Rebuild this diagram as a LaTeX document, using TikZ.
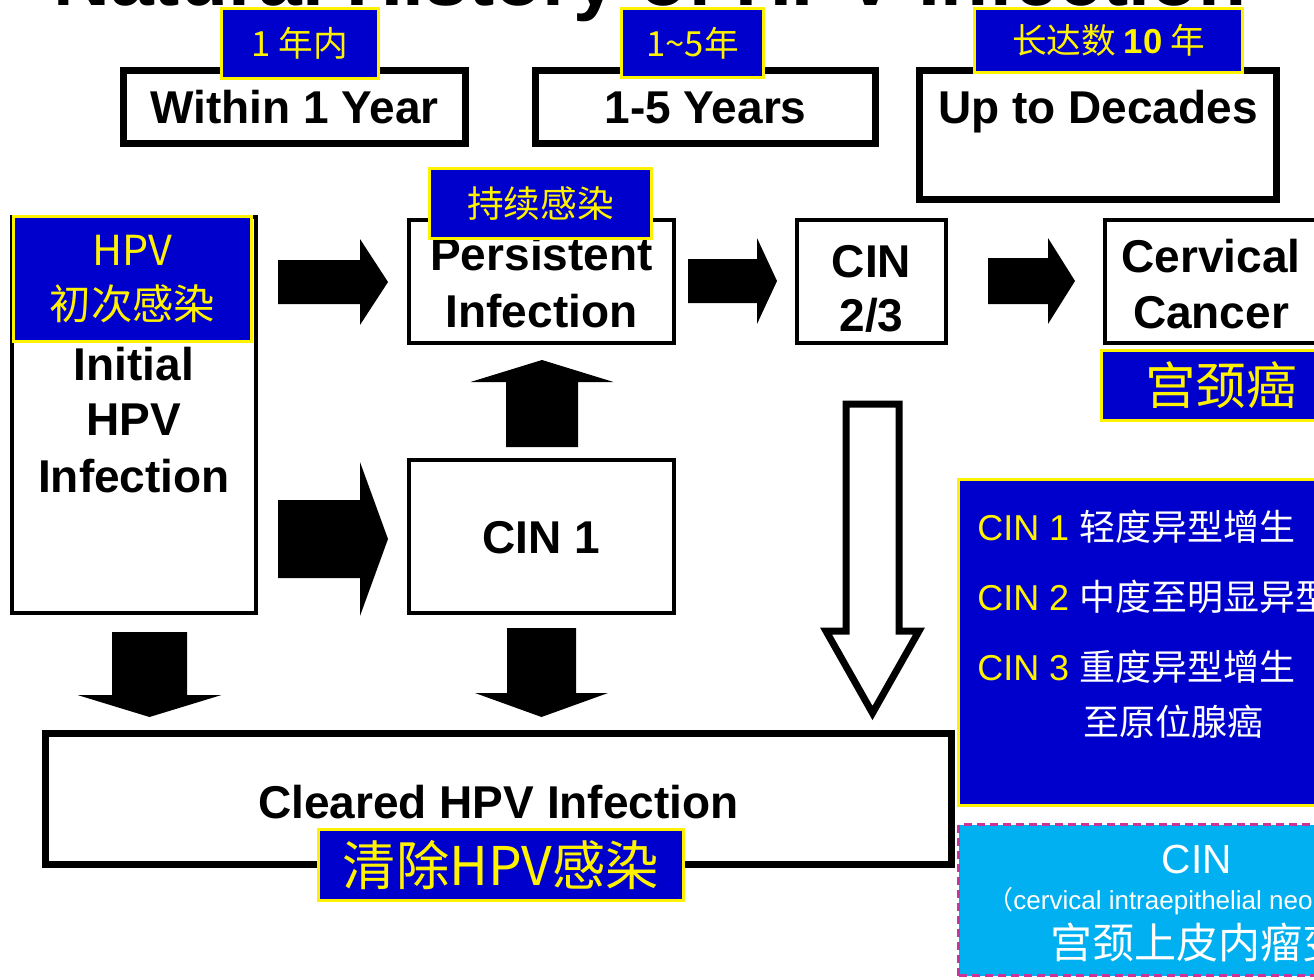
\documentclass[tikz,border=0pt]{standalone}
\usepackage{fontspec}
\setmainfont{Liberation Sans}
\newfontfamily\cjk{Noto Sans CJK SC}
\usetikzlibrary{fit}
\newlength\pxu \setlength\pxu{0.75pt}
\definecolor{lblue}{HTML}{0000CC}
\definecolor{cinc}{HTML}{00B0F0}
\definecolor{dmag}{HTML}{CC3399}
\begin{document}
\begin{tikzpicture}[x=0.75pt,y=-0.75pt,
  tbox/.style={draw=black, line width=7\pxu, fill=white, inner sep=0pt},
  mbox/.style={draw=black, line width=4\pxu, fill=white, inner sep=0pt},
  lbl/.style={draw=yellow, line width=3\pxu, fill=lblue, text=yellow, inner sep=0pt, align=center},
  etext/.style={font=\fontsize{34.5}{42}\selectfont\bfseries, text=black, inner sep=0pt, anchor=base},
  legt/.style={font=\fontsize{27}{32}\selectfont, text=white, inner sep=0pt, anchor=base west},
  pics/barrow/.style n args={4}{code={\fill[black] (0,-#2) -- (#1,-#2) -- (#1,-#3) -- (#4,0) -- (#1,#3) -- (#1,#2) -- (0,#2) -- cycle;}}
]
\useasboundingbox (0,0) rectangle (1314,979);
\clip (0,0) rectangle (1314,979);
\fill[white] (0,0) rectangle (1314,979);

% title (cut off at top)
\node[font=\fontsize{59}{60}\selectfont\bfseries, text=black, anchor=base, inner sep=0pt] (title) at (650,5) {Natural History of HPV Infection};

% timeline boxes
\node[tbox, fit={(123.5,70.5) (465.5,143.5)}] (yr1) {};
\node[tbox, fit={(535.5,70.5) (875.5,143.5)}] (yr5) {};
\node[tbox, fit={(919.5,70.5) (1276.5,199.5)}] (yrd) {};
\node[etext] (yr1t) at (294.5,123) {Within 1 Year};
\node[etext] (yr5t) at (705.5,123) {1-5 Years};
\node[etext] (yrdt) at (1098,123) {Up to Decades};

% main boxes
\node[mbox, fit={(12,217) (256,613)}] (init) {};
\node[mbox, fit={(409,220) (674,343)}] (pers) {};
\node[mbox, fit={(797,220) (946,343)}] (cin23) {};
\node[mbox, fit={(1105,220) (1322,343)}] (canc) {};
\node[mbox, fit={(409,460) (674,613)}] (cin1) {};
\node[tbox, fit={(45.5,733.5) (951.5,864.5)}] (clear) {};

\node[etext] (initA) at (134,380) {Initial};
\node[etext] (initB) at (134,435) {HPV};
\node[etext] (initC) at (134,492) {Infection};
\node[etext] (persA) at (541.5,270) {Persistent};
\node[etext] (persB) at (541.5,327) {Infection};
\node[etext] (cinA) at (871.5,277) {CIN};
\node[etext] (cinB) at (871.5,331) {2/3};
\node[etext] (cancA) at (1211,272) {Cervical};
\node[etext] (cancB) at (1211,328) {Cancer};
\node[etext] (cin1t) at (541.5,553) {CIN 1};
\node[etext] (cleart) at (498.5,818) {Cleared HPV Infection};

% block arrows
\pic at (278,282) {barrow={82}{22}{43}{110}};
\pic at (278,539) {barrow={82}{39}{77}{110}};
\pic at (688,281) {barrow={69}{22}{43}{89}};
\pic at (988,281) {barrow={60}{23}{43}{87}};
\pic[rotate=90] at (542,447) {barrow={65}{36}{71.5}{87}};
\pic[rotate=-90] at (541.5,628) {barrow={65}{34.5}{66.5}{89}};
\pic[rotate=-90] at (149.5,632) {barrow={63}{37.5}{72}{85}};
\draw[line width=7\pxu, line join=miter, fill=white] (846,404) -- (899,404) -- (899,631) -- (919,631) -- (872.5,713) -- (826,631) -- (846,631) -- cycle;

% Chinese labels
\node[lbl, minimum width=157\pxu, minimum height=70\pxu, font=\fontsize{26}{30}\selectfont\cjk] (yr1c) at (300,43.5) {1 年内};
\node[lbl, minimum width=142\pxu, minimum height=69\pxu, font=\fontsize{26}{30}\selectfont\cjk] (yr5c) at (692.5,43) {1\textasciitilde 5年};
\node[lbl, minimum width=268\pxu, minimum height=64\pxu, font=\fontsize{26}{30}\selectfont\cjk] (yrdc) at (1108.5,40.5) {长达数 {\rmfamily\bfseries 10} 年};
\node[lbl, minimum width=238\pxu, minimum height=125\pxu, font=\fontsize{31}{41}\selectfont\cjk] (initc) at (132.5,279) {HPV\\初次感染};
\node[lbl, minimum width=222\pxu, minimum height=70\pxu, font=\fontsize{27.5}{32}\selectfont\cjk] (persc) at (540.5,203.5) {持续感染};
\node[lbl, minimum width=239\pxu, minimum height=70\pxu, font=\fontsize{38}{44}\selectfont\cjk] (cancc) at (1221,385.5) {宫颈癌};
\node[lbl, minimum width=365\pxu, minimum height=71\pxu, font=\fontsize{40}{46}\selectfont\cjk] (clearc) at (501,865) {清除HPV感染};

% legend box
\node[lbl, minimum width=477\pxu, minimum height=326\pxu] (leg) at (1197,642.5) {};
\node[legt] (leg1) at (977,540) {\textcolor{yellow}{CIN 1} {\cjk 轻度异型增生}};
\node[legt] (leg2) at (977,610) {\textcolor{yellow}{CIN 2} {\cjk 中度至明显异型增生}};
\node[legt] (leg3) at (977,680) {\textcolor{yellow}{CIN 3} {\cjk 重度异型增生}};
\node[legt] (leg4) at (1083,735) {\cjk 至原位腺癌};

% CIN box
\node[draw=dmag, dash pattern=on 6pt off 3.75pt, line width=3\pxu, fill=cinc, minimum width=477\pxu, minimum height=151\pxu, inner sep=0pt] (cinbox) at (1197,900) {};
\node[font=\fontsize{30.5}{34}\selectfont, text=white, anchor=base, inner sep=0pt] (cinA2) at (1197,873) {CIN};
\node[font=\fontsize{19.5}{22}\selectfont, text=white, anchor=base, inner sep=0pt] (cinB2) at (1197,909) {{\cjk （}cervical intraepithelial neoplasia{\cjk ）}};
\node[font=\fontsize{31.5}{36}\selectfont\cjk, text=white, anchor=base, inner sep=0pt] (cinC2) at (1197,958) {宫颈上皮内瘤变};
\end{tikzpicture}
\end{document}
